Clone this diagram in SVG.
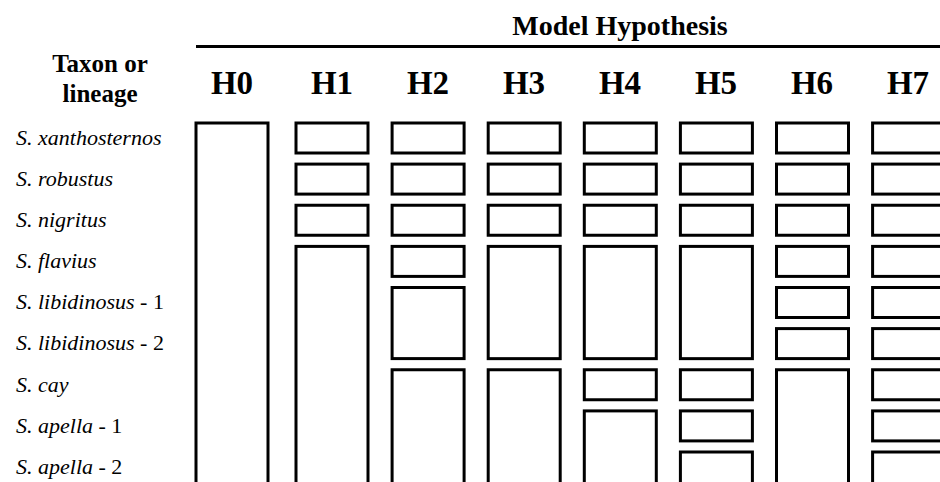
<svg xmlns="http://www.w3.org/2000/svg" width="940" height="482" viewBox="0 0 940 482">
<style>
.b{fill:#fff;stroke:#000;stroke-width:3}
.t{font-family:"Liberation Serif","Times New Roman",serif;fill:#000}
.hd{font-weight:bold;text-anchor:middle}
.tx{font-size:22px}
.sp{font-style:italic}
</style>
<rect width="940" height="482" fill="#fff"/>
<g id="header">
<text class="t hd" x="620" y="35" font-size="28">Model Hypothesis</text>
<line x1="196" y1="46.5" x2="942" y2="46.5" stroke="#000" stroke-width="3"/>
<text class="t hd" x="100" y="72" font-size="25">Taxon or</text>
<text class="t hd" x="100" y="102" font-size="25">lineage</text>
<g font-size="33">
<text class="t hd" x="232" y="94">H0</text>
<text class="t hd" x="332" y="94">H1</text>
<text class="t hd" x="428" y="94">H2</text>
<text class="t hd" x="524" y="94">H3</text>
<text class="t hd" x="620" y="94">H4</text>
<text class="t hd" x="716" y="94">H5</text>
<text class="t hd" x="812" y="94">H6</text>
<text class="t hd" x="908" y="94">H7</text>
</g>
</g>
<g id="taxa" class="t tx">
<text x="16" y="145"><tspan class="sp">S. xanthosternos</tspan></text>
<text x="16" y="186"><tspan class="sp">S. robustus</tspan></text>
<text x="16" y="227"><tspan class="sp">S. nigritus</tspan></text>
<text x="16" y="268"><tspan class="sp">S. flavius</tspan></text>
<text x="16" y="309"><tspan class="sp">S. libidinosus</tspan> - 1</text>
<text x="16" y="350"><tspan class="sp">S. libidinosus</tspan> - 2</text>
<text x="16" y="392"><tspan class="sp">S. cay</tspan></text>
<text x="16" y="433"><tspan class="sp">S. apella</tspan> - 1</text>
<text x="16" y="474"><tspan class="sp">S. apella</tspan> - 2</text>
</g>
<g id="H0">
<rect class="b" x="196" y="123" width="72" height="372"/>
</g>
<g id="H1">
<rect class="b" x="296" y="123" width="72" height="30"/>
<rect class="b" x="296" y="164.1" width="72" height="30"/>
<rect class="b" x="296" y="205.25" width="72" height="30"/>
<rect class="b" x="296" y="246.4" width="72" height="249"/>
</g>
<g id="H2">
<rect class="b" x="392.1" y="123" width="72" height="30"/>
<rect class="b" x="392.1" y="164.1" width="72" height="30"/>
<rect class="b" x="392.1" y="205.25" width="72" height="30"/>
<rect class="b" x="392.1" y="246.4" width="72" height="30"/>
<rect class="b" x="392.1" y="287.5" width="72" height="71.1"/>
<rect class="b" x="392.1" y="369.75" width="72" height="126"/>
</g>
<g id="H3">
<rect class="b" x="488.2" y="123" width="72" height="30"/>
<rect class="b" x="488.2" y="164.1" width="72" height="30"/>
<rect class="b" x="488.2" y="205.25" width="72" height="30"/>
<rect class="b" x="488.2" y="246.4" width="72" height="112.25"/>
<rect class="b" x="488.2" y="369.75" width="72" height="126"/>
</g>
<g id="H4">
<rect class="b" x="584.3" y="123" width="72" height="30"/>
<rect class="b" x="584.3" y="164.1" width="72" height="30"/>
<rect class="b" x="584.3" y="205.25" width="72" height="30"/>
<rect class="b" x="584.3" y="246.4" width="72" height="112.25"/>
<rect class="b" x="584.3" y="369.75" width="72" height="30"/>
<rect class="b" x="584.3" y="410.9" width="72" height="85"/>
</g>
<g id="H5">
<rect class="b" x="680.4" y="123" width="72" height="30"/>
<rect class="b" x="680.4" y="164.1" width="72" height="30"/>
<rect class="b" x="680.4" y="205.25" width="72" height="30"/>
<rect class="b" x="680.4" y="246.4" width="72" height="112.25"/>
<rect class="b" x="680.4" y="369.75" width="72" height="30"/>
<rect class="b" x="680.4" y="410.9" width="72" height="30"/>
<rect class="b" x="680.4" y="452" width="72" height="43"/>
</g>
<g id="H6">
<rect class="b" x="776.5" y="123" width="72" height="30"/>
<rect class="b" x="776.5" y="164.1" width="72" height="30"/>
<rect class="b" x="776.5" y="205.25" width="72" height="30"/>
<rect class="b" x="776.5" y="246.4" width="72" height="30"/>
<rect class="b" x="776.5" y="287.5" width="72" height="30"/>
<rect class="b" x="776.5" y="328.6" width="72" height="30"/>
<rect class="b" x="776.5" y="369.75" width="72" height="126"/>
</g>
<g id="H7">
<rect class="b" x="872.6" y="123" width="72" height="30"/>
<rect class="b" x="872.6" y="164.1" width="72" height="30"/>
<rect class="b" x="872.6" y="205.25" width="72" height="30"/>
<rect class="b" x="872.6" y="246.4" width="72" height="30"/>
<rect class="b" x="872.6" y="287.5" width="72" height="30"/>
<rect class="b" x="872.6" y="328.6" width="72" height="30"/>
<rect class="b" x="872.6" y="369.75" width="72" height="30"/>
<rect class="b" x="872.6" y="410.9" width="72" height="30"/>
<rect class="b" x="872.6" y="452" width="72" height="43"/>
</g>
<g id="connectors"/>
</svg>
